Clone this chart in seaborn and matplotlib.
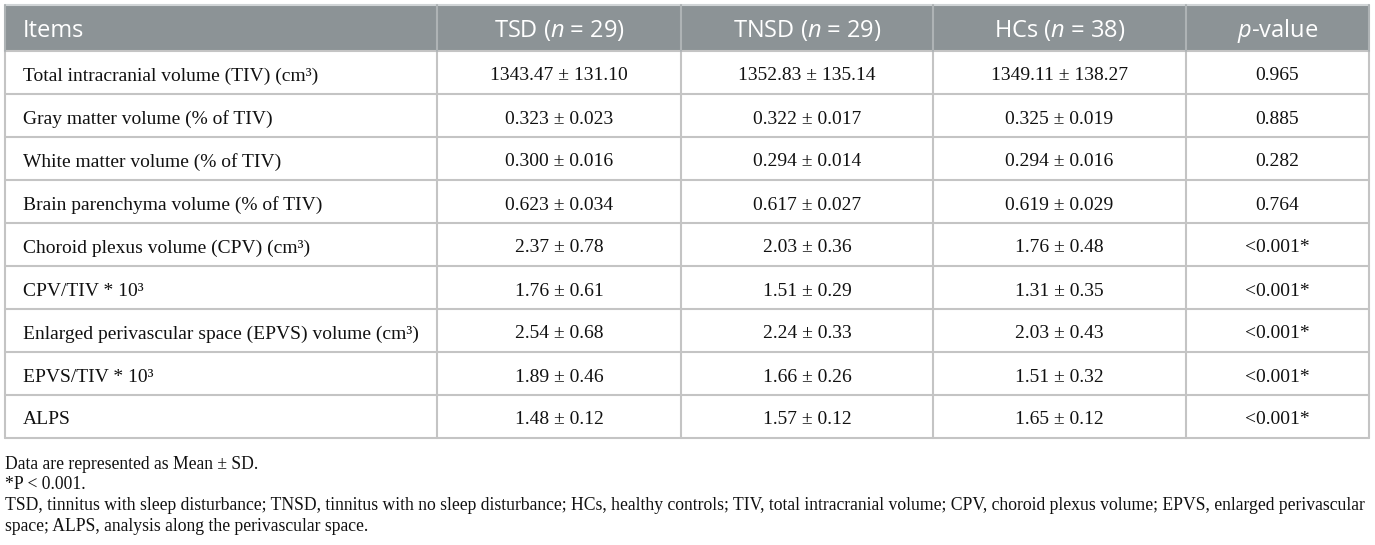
import seaborn as sns
from matplotlib import pyplot as plt

# Table content
items = [
    "Total intracranial volume (TIV) (cm³)",
    "Gray matter volume (% of TIV)",
    "White matter volume (% of TIV)",
    "Brain parenchyma volume (% of TIV)",
    "Choroid plexus volume (CPV) (cm³)",
    "CPV/TIV * 10³",
    "Enlarged perivascular space (EPVS) volume (cm³)",
    "EPVS/TIV * 10³",
    "ALPS",
]
tsd = ["1343.47 ± 131.10", "0.323 ± 0.023", "0.300 ± 0.016", "0.623 ± 0.034",
       "2.37 ± 0.78", "1.76 ± 0.61", "2.54 ± 0.68", "1.89 ± 0.46", "1.48 ± 0.12"]
tnsd = ["1352.83 ± 135.14", "0.322 ± 0.017", "0.294 ± 0.014", "0.617 ± 0.027",
        "2.03 ± 0.36", "1.51 ± 0.29", "2.24 ± 0.33", "1.66 ± 0.26", "1.57 ± 0.12"]
hcs = ["1349.11 ± 138.27", "0.325 ± 0.019", "0.294 ± 0.016", "0.619 ± 0.029",
       "1.76 ± 0.48", "1.31 ± 0.35", "2.03 ± 0.43", "1.51 ± 0.32", "1.65 ± 0.12"]
p_values = ["0.965", "0.885", "0.282", "0.764", "<0.001*", "<0.001*",
            "<0.001*", "<0.001*", "<0.001*"]
headers = ["Items", r"TSD ($n$ = 29)", r"TNSD ($n$ = 29)", r"HCs ($n$ = 38)", r"$p$-value"]
footnotes = [
    "Data are represented as Mean ± SD.",
    "*P < 0.001.",
    "TSD, tinnitus with sleep disturbance; TNSD, tinnitus with no sleep disturbance; HCs, healthy controls; "
    "TIV, total intracranial volume; CPV, choroid plexus volume; EPVS, enlarged perivascular",
    "space; ALPS, analysis along the perivascular space.",
]

sns.set_style("white")
plt.rcParams['mathtext.fontset'] = 'custom'
plt.rcParams['mathtext.rm'] = 'Open Sans'
plt.rcParams['mathtext.it'] = 'Open Sans:italic'

# Layout in pixel units
col_edges = [5, 437, 681, 933, 1186, 1369]
top, header_bottom, row_h = 5, 51, 43
header_color = "#8c9396"
grid_color = "#c4c4c4"

fig = plt.figure(figsize=(13.75, 5.45), dpi=100)
ax = fig.add_axes([0, 0, 1, 1])
ax.set_xlim(0, 1375)
ax.set_ylim(545, 0)
ax.axis("off")

columns = [items, tsd, tnsd, hcs, p_values]
n_rows = len(items)
table_bottom = header_bottom + n_rows * row_h

# Header background
ax.fill_between([col_edges[0], col_edges[-1]], top, header_bottom, color=header_color, lw=0)
ax.plot([col_edges[0], col_edges[-1]], [top, top], color="#d0d4d6", lw=1.5)

# Horizontal grid lines
for i in range(n_rows + 1):
    y = header_bottom + i * row_h
    ax.plot([col_edges[0], col_edges[-1]], [y, y], color=grid_color, lw=1.5)

# Vertical grid lines
for j, x in enumerate(col_edges):
    ax.plot([x, x], [header_bottom, table_bottom], color=grid_color, lw=1.5)
    ax.plot([x, x], [top, header_bottom], color="#aeb3b5", lw=1.5)

# Header text (baseline aligned)
header_base = (top + header_bottom) / 2 + 9
for j, h in enumerate(headers):
    if j == 0:
        ax.text(col_edges[0] + 18, header_base, h, ha="left", va="baseline",
                color="white", fontsize=17, family="Open Sans")
    else:
        ax.text((col_edges[j] + col_edges[j + 1]) / 2, header_base, h,
                ha="center", va="baseline", color="white", fontsize=17, family="Open Sans")

# Body text (baseline aligned)
for j, col in enumerate(columns):
    for i, val in enumerate(col):
        y = header_bottom + (i + 0.5) * row_h + 8
        if j == 0:
            ax.text(col_edges[0] + 18, y, val, ha="left", va="baseline",
                    fontsize=14, family="Liberation Serif", color="#111111")
        else:
            ax.text((col_edges[j] + col_edges[j + 1]) / 2, y, val, ha="center",
                    va="baseline", fontsize=14, family="Liberation Serif", color="#111111")

# Footnotes
foot_y = [469, 489, 510, 531]
for y, note in zip(foot_y, footnotes):
    ax.text(col_edges[0], y, note, ha="left", va="baseline", fontsize=12.7,
            family="Liberation Serif", color="#111111")

fig.savefig("out.png", dpi=100)
